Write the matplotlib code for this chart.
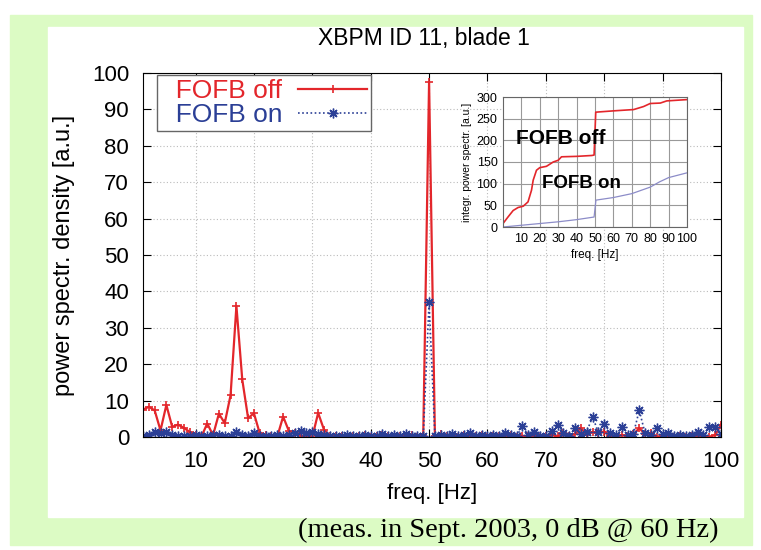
import matplotlib
matplotlib.use("Agg")
import matplotlib.pyplot as plt
from matplotlib.patches import Rectangle
import numpy as np

# main spectrum, 1 Hz steps
freq = np.arange(1, 101)

fofb_off = [7.5, 8.3, 7.3, 1.8, 8.8, 2.8, 3.4, 2.5, 1.4, 0.5,
            0.1, 3.7, 0.5, 6.4, 3.8, 11.5, 36.0, 15.8, 5.2, 6.5,
            1.0, 0.6, 0.3, 0.1, 5.6, 1.6, 1.1, 0.4, 0.1, 0.0,
            6.6, 2.0, 0.4, 0.2, 0.3, 0.1, 0.4, 0.2, 0.5, 0.1,
            0.3, 0.6, 0.2, 0.1, 0.4, 0.2, 0.5, 0.1, 0.3, 97.5,
            0.3, 0.8, 0.2, 0.4, 0.1, 0.5, 0.3, 0.2, 0.6, 0.1,
            0.4, 0.2, 0.3, 0.5, 0.1, 0.3, 0.2, 0.4, 0.1, 0.3,
            0.5, 0.2, 1.0, 0.3, 0.8, 2.5, 0.5, 1.4, 1.2, 1.5,
            0.2, 0.1, 0.5, 0.2, 0.8, 2.4, 0.8, 1.2, 0.1, 0.3,
            0.2, 0.1, 0.3, 0.1, 0.2, 0.4, 0.1, 0.1, 0.5, 3.4]

fofb_on = [0.3, 0.5, 1.3, 1.2, 1.3, 0.6, 0.2, 0.4, 0.3, 0.5,
           0.4, 0.2, 0.5, 0.6, 0.3, 0.4, 1.5, 0.5, 0.3, 1.2,
           0.4, 0.3, 0.2, 0.5, 0.3, 0.6, 1.2, 1.6, 1.0, 1.4,
           0.9, 0.5, 0.3, 0.4, 0.2, 0.6, 0.4, 0.3, 0.5, 0.2,
           0.4, 0.8, 0.3, 0.5, 0.4, 0.9, 0.3, 0.4, 0.2, 37.0,
           0.3, 0.6, 0.4, 0.8, 0.3, 0.5, 1.2, 0.4, 0.6, 0.3,
           0.5, 0.4, 1.1, 0.6, 0.3, 2.9, 0.5, 1.3, 0.4, 0.3,
           1.6, 3.3, 1.2, 0.3, 2.5, 0.8, 1.5, 5.5, 1.3, 3.7,
           1.2, 0.5, 2.8, 0.6, 0.9, 7.3, 1.0, 0.5, 2.6, 0.8,
           1.2, 0.4, 0.6, 0.3, 0.5, 1.3, 0.5, 2.8, 2.8, 0.9]

# integrated spectrum (inset)
int_off_f = [0, 2.7, 5.5, 8.2, 11, 13.6, 15.5, 16.4, 18.2, 20, 23.6, 27.3,
             30, 31.8, 40, 48.2, 49.5, 50.4, 60, 71, 76.4, 80, 85.5, 89, 100]
int_off = [8, 23, 38, 45, 48, 58, 85, 108, 131, 137, 140, 150,
           154, 162, 163, 165, 166, 265, 268, 271, 278, 285, 286, 291, 294]
int_on_f = [0, 10, 20, 30, 40, 49.5, 50.5, 60, 70, 80, 85, 90, 100]
int_on = [0, 4, 8, 12, 17, 23, 62, 68, 77, 92, 104, 114, 125]

RED = "#e3262b"
BLUE = "#2b3f96"
GREEN = "#dcfbc4"
W, H = 761, 550

fig = plt.figure(figsize=(W / 100, H / 100), dpi=100)
fig.patch.set_facecolor("white")
fig.patches.append(Rectangle((10 / W, 1 - 545 / H), 742 / W, 530 / H,
                             transform=fig.transFigure, color=GREEN, zorder=-10))
fig.patches.append(Rectangle((48 / W, 1 - 517 / H), 695 / W, 490 / H,
                             transform=fig.transFigure, color="white", zorder=-9))

plt.rcParams["font.family"] = ["Liberation Sans", "DejaVu Sans"]

ax = fig.add_axes([143 / W, 1 - 437 / H, 578 / W, 364 / H])
ax.plot(freq, fofb_off, color=RED, lw=1.6, marker="+", ms=6, mew=1.2,
        label="  FOFB off")
ax.plot(freq, fofb_on, color=BLUE, lw=1.2, ls=(0, (1, 1.5)), marker=(8, 2, 0),
        ms=7, mew=1.0, label="  FOFB on")
ax.set_xlim(1, 100)
ax.set_ylim(0, 100)
ax.set_xticks(np.arange(10, 101, 10))
ax.set_yticks(np.arange(0, 101, 10))
ax.tick_params(direction="in", top=True, right=True, length=6,
               labelsize=16, pad=10)
ax.grid(True, color="#bbbbbb", ls=(0, (1, 2)), lw=0.8)
ax.set_xlabel("freq. [Hz]", fontsize=16, labelpad=8)
ax.set_ylabel("power spectr. density [a.u.]", fontsize=17, labelpad=12)
fig.text(424 / W, 1 - 38 / H, "XBPM ID 11, blade 1", fontsize=16.5,
         ha="center", va="center")

leg = ax.legend(loc="upper left", bbox_to_anchor=(157 / W, 1 - 75 / H),
                bbox_transform=fig.transFigure, markerfirst=False,
                numpoints=1, fontsize=19, labelcolor="linecolor",
                fancybox=False, edgecolor="#666666", framealpha=1,
                handlelength=2.6, borderpad=0.15, labelspacing=0.0,
                borderaxespad=0, handletextpad=0.6)
leg.get_frame().set_linewidth(1.0)

# inset with integrated spectrum
ins = fig.add_axes([503 / W, 1 - 227 / H, 184 / W, 130 / H])
ins.plot(int_off_f, int_off, color=RED, lw=1.2)
ins.plot(int_on_f, int_on, color="#8c8cc8", lw=0.9)
ins.set_xlim(0, 100)
ins.set_ylim(0, 300)
ins.set_xticks(np.arange(10, 101, 10))
ins.set_yticks(np.arange(0, 301, 50))
ins.tick_params(direction="in", length=0, labelsize=9, pad=4)
ins.grid(True, color="#999999", lw=0.8)
ins.set_xlabel("freq. [Hz]", fontsize=8.5, labelpad=3)
ins.set_ylabel("integr. power spectr. [a.u.]", fontsize=7.5, labelpad=3)
ins.text(31.5, 204, "FOFB off", fontsize=15, fontweight="bold",
         ha="center", va="center")
ins.text(42.5, 101, "FOFB on", fontsize=13.5, fontweight="bold",
         ha="center", va="center")
for s in ins.spines.values():
    s.set_color("#666666")

fig.text(718 / W, 1 - 530 / H, "(meas. in Sept. 2003, 0 dB @ 60 Hz)",
         ha="right", va="center", fontsize=20.5,
         family=["Liberation Serif", "DejaVu Serif"])

fig.savefig("out.png", dpi=100)
